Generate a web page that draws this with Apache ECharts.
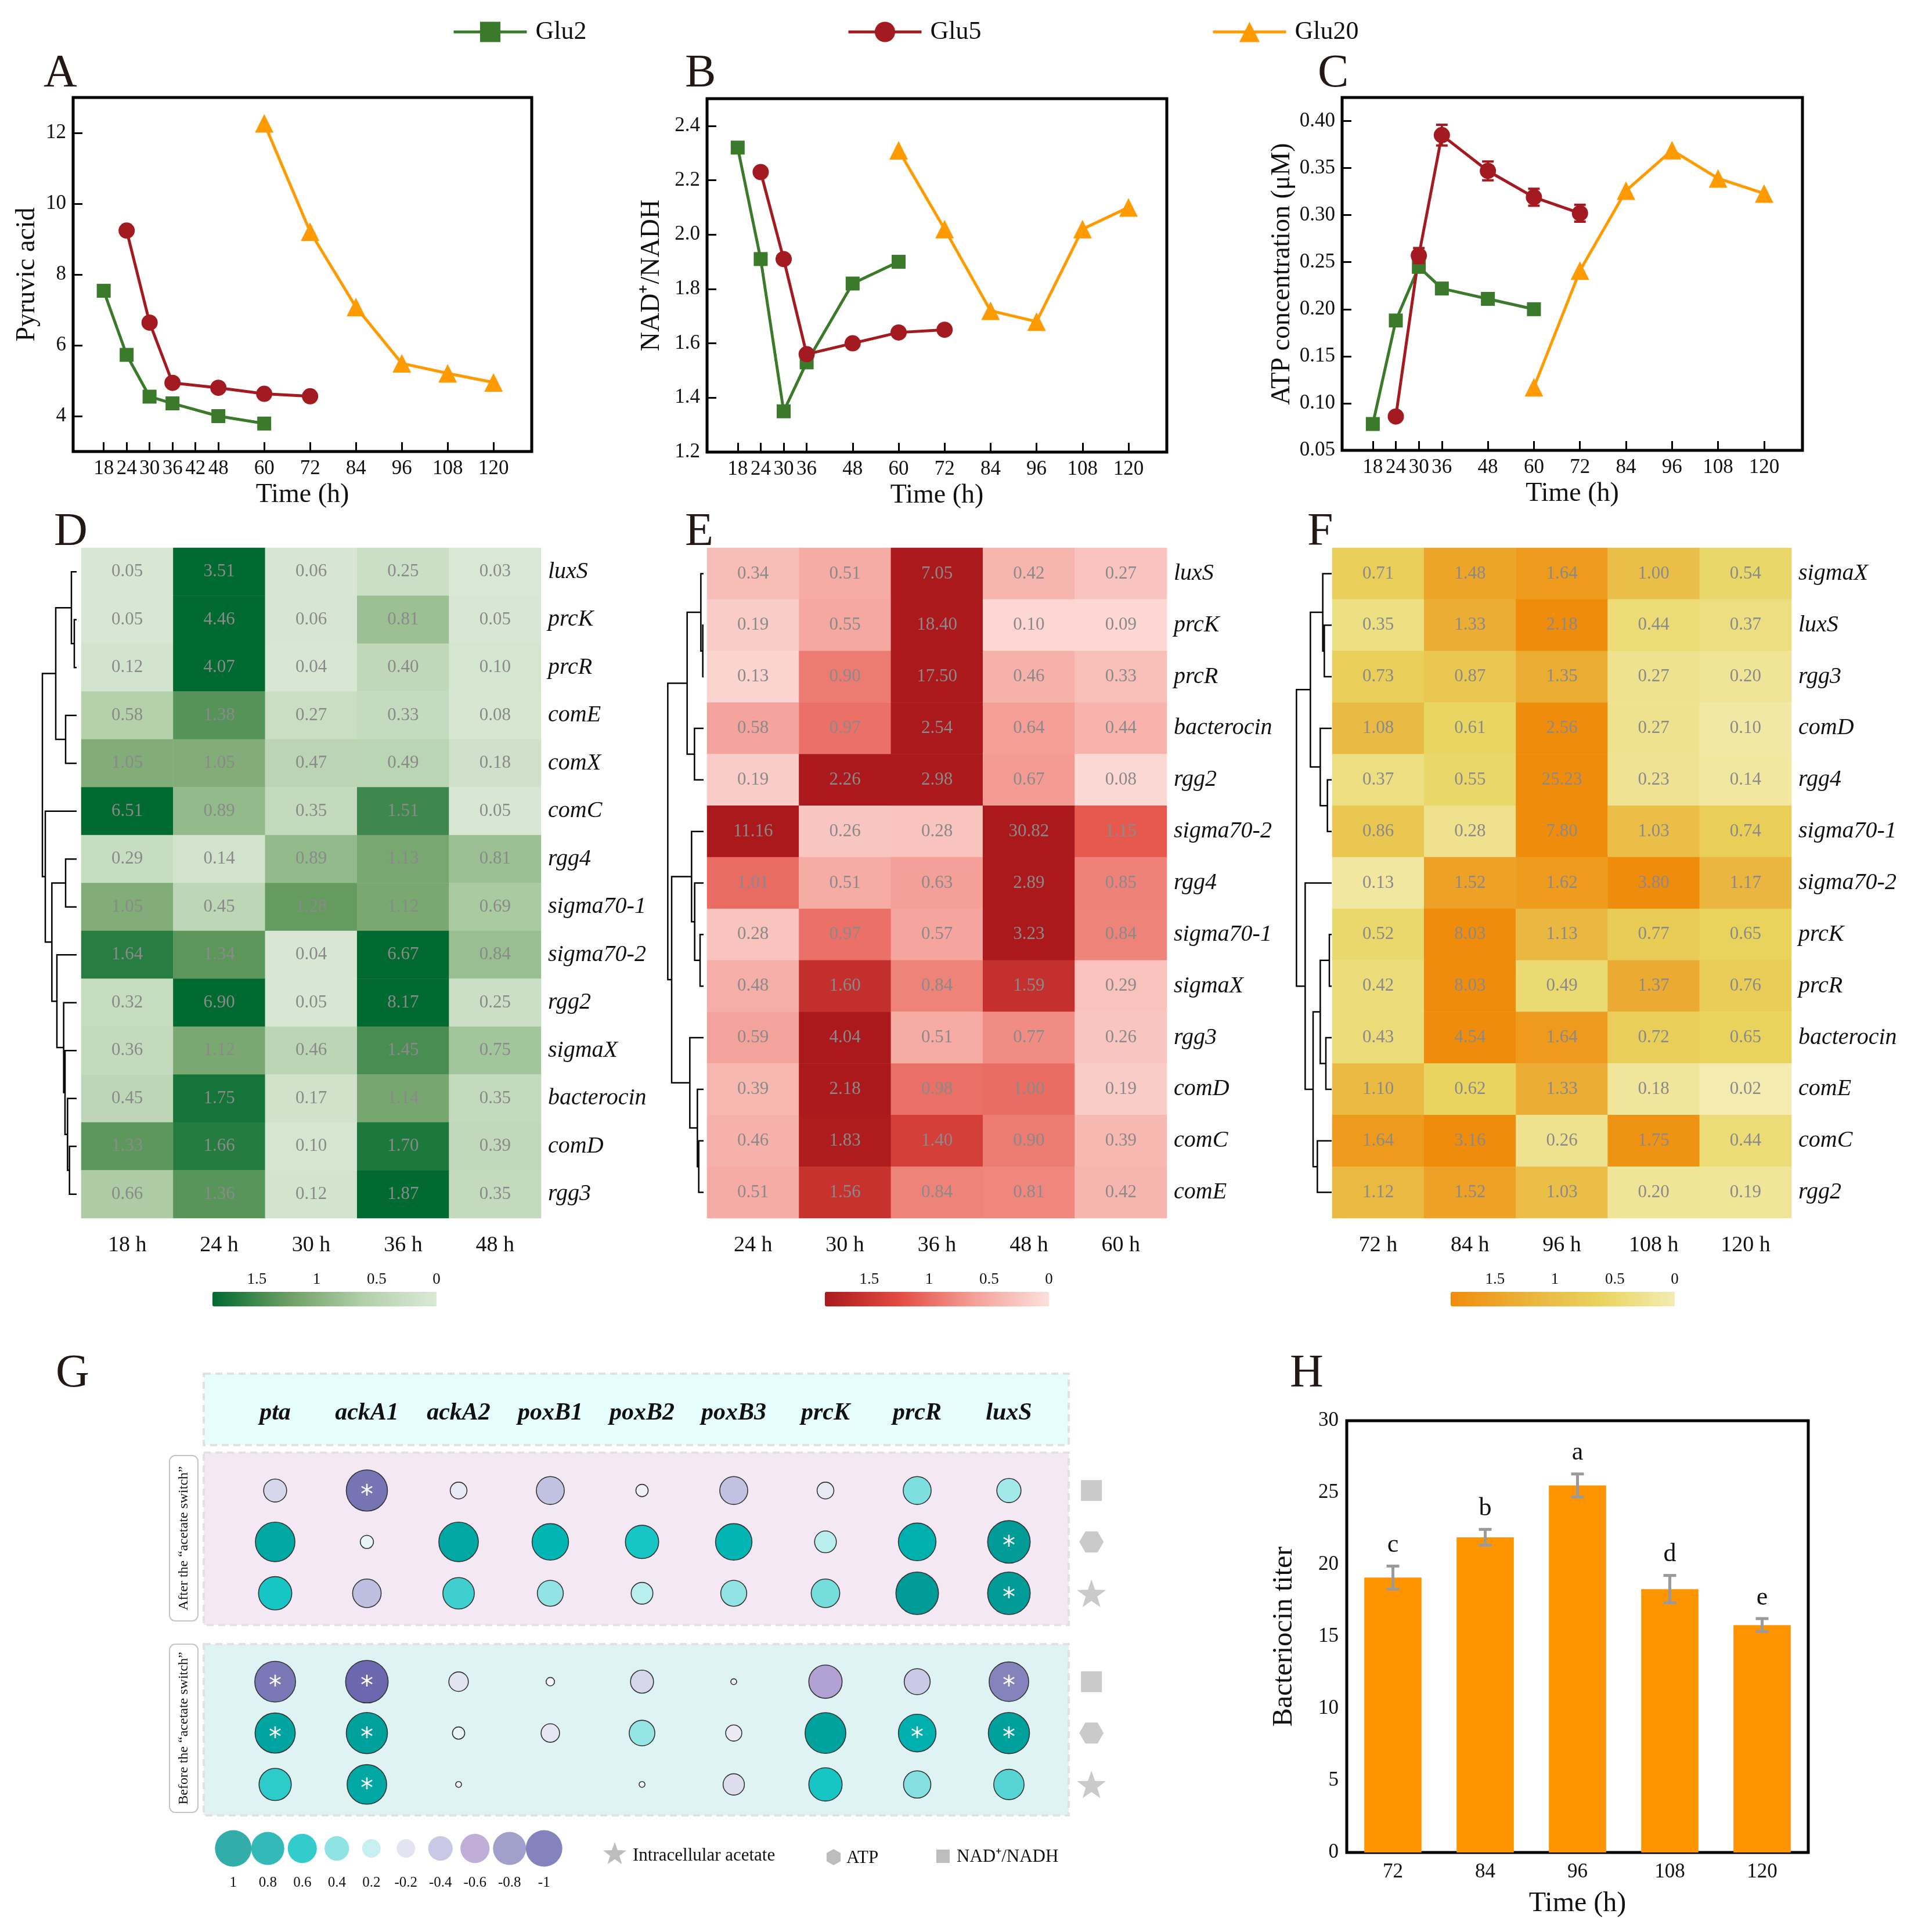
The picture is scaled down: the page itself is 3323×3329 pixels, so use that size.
<!DOCTYPE html>
<html>
<head>
<meta charset="utf-8">
<script src="https://cdn.jsdelivr.net/npm/echarts@6/dist/echarts.min.js"></script>
<style>
html, body { margin: 0; padding: 0; background: #fff; }
#chart { width: 3323px; height: 3329px; }
</style>
</head>
<body>
<div id="chart"></div>
<script>
const FONT = 'Liberation Serif';
const INK = '#111';

// ---------- panels A-C: time courses ----------
const groupNames = ['Glu2', 'Glu5', 'Glu20'];
const groupColors = ['#3b7a2a', '#a31b21', '#ff9a00'];
const groupSymbols = ['rect', 'circle', 'triangle'];
const groupSymbolSizes = [24, 28, 32];

const timesGlu2 = [18, 24, 30, 36, 48, 60];
const timesGlu5 = [24, 30, 36, 48, 60, 72];
const timesGlu20 = [60, 72, 84, 96, 108, 120];

const pyruvicGlu2 = [7.54, 5.73, 4.55, 4.36, 4.00, 3.79];
const pyruvicGlu5 = [9.24, 6.64, 4.94, 4.80, 4.63, 4.56];
const pyruvicGlu20 = [12.27, 9.21, 7.08, 5.49, 5.21, 4.95];

const nadGlu2 = [2.32, 1.91, 1.35, 1.53, 1.82, 1.90];
const nadGlu5 = [2.23, 1.91, 1.56, 1.60, 1.64, 1.65];
const nadGlu20 = [2.31, 2.02, 1.72, 1.68, 2.02, 2.10];

const atpGlu2 = [0.078, 0.188, 0.245, 0.222, 0.211, 0.200];
const atpGlu5 = [0.086, 0.257, 0.385, 0.347, 0.319, 0.302];
const atpGlu20 = [0.117, 0.241, 0.326, 0.369, 0.339, 0.323];
const atpErrGlu5 = [0.003, 0.008, 0.011, 0.010, 0.009, 0.009];

const xTicksA = [18, 24, 30, 36, 42, 48, 60, 72, 84, 96, 108, 120];
const xTicksBC = [18, 24, 30, 36, 48, 60, 72, 84, 96, 108, 120];
const yTicksA = [4, 6, 8, 10, 12];
const yTicksB = [1.2, 1.4, 1.6, 1.8, 2.0, 2.2, 2.4];
const yTicksC = [0.05, 0.10, 0.15, 0.20, 0.25, 0.30, 0.35, 0.40];

// ---------- panels D-F: heatmaps ----------
const colsD = ['18 h', '24 h', '30 h', '36 h', '48 h'];
const rowsD = ['luxS', 'prcK', 'prcR', 'comE', 'comX', 'comC', 'rgg4', 'sigma70-1', 'sigma70-2', 'rgg2', 'sigmaX', 'bacterocin', 'comD', 'rgg3'];
const valuesD = [
  [0.05, 3.51, 0.06, 0.25, 0.03],
  [0.05, 4.46, 0.06, 0.81, 0.05],
  [0.12, 4.07, 0.04, 0.40, 0.10],
  [0.58, 1.38, 0.27, 0.33, 0.08],
  [1.05, 1.05, 0.47, 0.49, 0.18],
  [6.51, 0.89, 0.35, 1.51, 0.05],
  [0.29, 0.14, 0.89, 1.13, 0.81],
  [1.05, 0.45, 1.28, 1.12, 0.69],
  [1.64, 1.34, 0.04, 6.67, 0.84],
  [0.32, 6.90, 0.05, 8.17, 0.25],
  [0.36, 1.12, 0.46, 1.45, 0.75],
  [0.45, 1.75, 0.17, 1.14, 0.35],
  [1.33, 1.66, 0.10, 1.70, 0.39],
  [0.66, 1.36, 0.12, 1.87, 0.35]
];
// dendrogram: [height, left, right], leaves are row indices
const treeD = [177,
  [108, [27, 0, [12, 1, 2]], [57, 3, 4]],
  [162, 5, [128, [57, 6, 7], [102, 8, [67, 9, [60, 10, [47, 11, [37, 12, 13]]]]]]]];

const colsE = ['24 h', '30 h', '36 h', '48 h', '60 h'];
const rowsE = ['luxS', 'prcK', 'prcR', 'bacterocin', 'rgg2', 'sigma70-2', 'rgg4', 'sigma70-1', 'sigmaX', 'rgg3', 'comD', 'comC', 'comE'];
const valuesE = [
  [0.34, 0.51, 7.05, 0.42, 0.27],
  [0.19, 0.55, 18.40, 0.10, 0.09],
  [0.13, 0.90, 17.50, 0.46, 0.33],
  [0.58, 0.97, 2.54, 0.64, 0.44],
  [0.19, 2.26, 2.98, 0.67, 0.08],
  [11.16, 0.26, 0.28, 30.82, 1.15],
  [1.01, 0.51, 0.63, 2.89, 0.85],
  [0.28, 0.97, 0.57, 3.23, 0.84],
  [0.48, 1.60, 0.84, 1.59, 0.29],
  [0.59, 4.04, 0.51, 0.77, 0.26],
  [0.39, 2.18, 0.98, 1.00, 0.19],
  [0.46, 1.83, 1.40, 0.90, 0.39],
  [0.51, 1.56, 0.84, 0.81, 0.42]
];
const treeE = [185,
  [85, [14, 0, [4, 1, 2]], [47, 3, 4]],
  [165, [62, 5, [46, 6, [18, 7, 8]]], [71, 9, [32, 10, [25, 11, 12]]]]];

const colsF = ['72 h', '84 h', '96 h', '108 h', '120 h'];
const rowsF = ['sigmaX', 'luxS', 'rgg3', 'comD', 'rgg4', 'sigma70-1', 'sigma70-2', 'prcK', 'prcR', 'bacterocin', 'comE', 'comC', 'rgg2'];
const valuesF = [
  [0.71, 1.48, 1.64, 1.00, 0.54],
  [0.35, 1.33, 2.18, 0.44, 0.37],
  [0.73, 0.87, 1.35, 0.27, 0.20],
  [1.08, 0.61, 2.56, 0.27, 0.10],
  [0.37, 0.55, 25.23, 0.23, 0.14],
  [0.86, 0.28, 7.80, 1.03, 0.74],
  [0.13, 1.52, 1.62, 3.80, 1.17],
  [0.52, 8.03, 1.13, 0.77, 0.65],
  [0.42, 8.03, 0.49, 1.37, 0.76],
  [0.43, 4.54, 1.64, 0.72, 0.65],
  [1.10, 0.62, 1.33, 0.18, 0.02],
  [1.64, 3.16, 0.26, 1.75, 0.44],
  [1.12, 1.52, 1.03, 0.20, 0.19]
];
const treeF = [182,
  [110, [46, 0, [38, 1, 2]], [59, 3, [22, 4, 5]]],
  [137, 6, [96, [59, [12, 7, 8], [30, 9, 10]], [74, 11, 12]]]];

const barTicks = [0, 0.5, 1, 1.5];

// ---------- panel G: correlation bubbles ----------
const genes = ['pta', 'ackA1', 'ackA2', 'poxB1', 'poxB2', 'poxB3', 'prcK', 'prcR', 'luxS'];
const metrics = ['NAD⁺/NADH', 'ATP', 'Intracellular acetate'];
const afterR = [
  [-0.23, -0.91, -0.10, -0.37, -0.04, -0.37, -0.10, 0.37, 0.26],
  [0.83, 0.05, 0.83, 0.69, 0.56, 0.69, 0.20, 0.74, 0.98],
  [0.56, -0.39, 0.49, 0.31, 0.20, 0.31, 0.39, 0.98, 0.98]
];
const afterSig = [
  [0, 1, 0, 0, 0, 0, 0, 0, 0],
  [0, 0, 0, 0, 0, 0, 0, 0, 1],
  [0, 0, 0, 0, 0, 0, 0, 0, 1]
];
const beforeR = [
  [-0.89, -0.98, -0.15, -0.01, -0.23, -0.001, -0.56, -0.31, -0.83],
  [0.86, 0.91, 0.04, -0.13, 0.30, -0.09, 0.89, 0.74, 0.91],
  [0.52, 0.83, 0.001, null, 0.001, -0.19, 0.56, 0.35, 0.45]
];
const beforeSig = [
  [1, 1, 0, 0, 0, 0, 0, 0, 1],
  [1, 1, 0, 0, 0, 0, 0, 1, 1],
  [0, 1, 0, 0, 0, 0, 0, 0, 0]
];
const legendR = [1, 0.8, 0.6, 0.4, 0.2, -0.2, -0.4, -0.6, -0.8, -1];
const corrColors = ['#6764ad', '#8a88bd', '#b09ad0', '#bcbce0', '#dcdcee', '#f6f6fb',
  '#b9eeee', '#73dcdc', '#00bfbf', '#00a9a6', '#009995'];

// ---------- panel H: bacteriocin titer ----------
const hTimes = ['72', '84', '96', '108', '120'];
const hTiter = [19.1, 21.9, 25.5, 18.3, 15.8];
const hErr = [0.8, 0.55, 0.8, 0.95, 0.45];
const hLetters = ['c', 'b', 'a', 'd', 'e'];

// ---------- build option ----------
const grids = [], xAxes = [], yAxes = [], series = [], visualMaps = [];
function addGrid(g) { grids.push(g); return grids.length - 1; }
function addSeries(s) { series.push(s); return series.length - 1; }
const txt = (size, extra) => Object.assign({ fontFamily: FONT, fontSize: size, color: INK }, extra || {});

const starPath = (() => {
  const p = [];
  for (let i = 0; i < 10; i++) {
    const r = i % 2 ? 40 : 100, a = -Math.PI / 2 + i * Math.PI / 5;
    p.push((i ? 'L' : 'M') + (r * Math.cos(a)).toFixed(1) + ',' + (r * Math.sin(a)).toFixed(1));
  }
  return 'path://' + p.join(' ') + ' Z';
})();
const hexPath = 'path://M100,0 L50,86.6 L-50,86.6 L-100,0 L-50,-86.6 L50,-86.6 Z';
const metricSymbols = ['rect', hexPath, starPath];
const metricSizes = [36, 42, 50];

// line panels
const linePanels = [
  { grid: { left: 126, top: 168, width: 790, height: 610 }, vals: [pyruvicGlu2, pyruvicGlu5, pyruvicGlu20],
    xTicks: xTicksA, yTicks: yTicksA, yMin: 3, yMax: 13, digits: 0, yName: 'Pyruvic acid', yGap: 56 },
  { grid: { left: 1218, top: 170, width: 792, height: 609 }, vals: [nadGlu2, nadGlu5, nadGlu20],
    xTicks: xTicksBC, yTicks: yTicksB, yMin: 1.2, yMax: 2.5, digits: 1, yName: 'NAD⁺/NADH', yGap: 72 },
  { grid: { left: 2312, top: 168, width: 793, height: 608 }, vals: [atpGlu2, atpGlu5, atpGlu20],
    xTicks: xTicksBC, yTicks: yTicksC, yMin: 0.05, yMax: 0.425, digits: 2, yName: 'ATP concentration (μM)', yGap: 80 }
];
const groupTimes = [timesGlu2, timesGlu5, timesGlu20];
const lineAxisIdx = [];
linePanels.forEach((p) => {
  const gi = addGrid(Object.assign({ show: true, borderColor: '#000', borderWidth: 5, backgroundColor: 'transparent' }, p.grid));
  xAxes.push({
    gridIndex: gi, type: 'value', min: 10, max: 130,
    name: 'Time (h)', nameLocation: 'middle', nameGap: 52, nameTextStyle: txt(46),
    axisLine: { show: false }, splitLine: { show: false },
    axisTick: { inside: true, length: 16, lineStyle: { width: 3, color: '#000' }, customValues: p.xTicks },
    axisLabel: txt(35, { customValues: p.xTicks, margin: 12 })
  });
  yAxes.push({
    gridIndex: gi, type: 'value', min: p.yMin, max: p.yMax,
    name: p.yName, nameLocation: 'middle', nameGap: p.yGap, nameTextStyle: txt(46),
    axisLine: { show: false }, splitLine: { show: false },
    axisTick: { inside: true, length: 16, lineStyle: { width: 3, color: '#000' }, customValues: p.yTicks },
    axisLabel: txt(35, { customValues: p.yTicks, margin: 12, formatter: (v) => Number(v).toFixed(p.digits) })
  });
  const ai = xAxes.length - 1;
  lineAxisIdx.push(ai);
  p.vals.forEach((vals, g) => {
    addSeries({
      type: 'line', name: groupNames[g], xAxisIndex: ai, yAxisIndex: ai,
      data: groupTimes[g].map((t, i) => [t, vals[i]]),
      symbol: groupSymbols[g], symbolSize: groupSymbolSizes[g],
      lineStyle: { color: groupColors[g], width: 5 },
      itemStyle: { color: groupColors[g] }, z: 3
    });
  });
});
// error bars on ATP for Glu5
addSeries({
  type: 'custom', xAxisIndex: lineAxisIdx[2], yAxisIndex: lineAxisIdx[2], z: 4, silent: true,
  data: timesGlu5.map((t, i) => [t, atpGlu5[i], atpErrGlu5[i]]),
  renderItem: (params, api) => {
    const t = api.value(0), m = api.value(1), e = api.value(2);
    const a = api.coord([t, m + e]), b = api.coord([t, m - e]), w = 10;
    const st = { stroke: groupColors[1], lineWidth: 4 };
    return { type: 'group', children: [
      { type: 'line', shape: { x1: a[0], y1: a[1], x2: b[0], y2: b[1] }, style: st },
      { type: 'line', shape: { x1: a[0] - w, y1: a[1], x2: a[0] + w, y2: a[1] }, style: st },
      { type: 'line', shape: { x1: b[0] - w, y1: b[1], x2: b[0] + w, y2: b[1] }, style: st }
    ] };
  }
});

// heatmap panels
const heatPanels = [
  { cols: colsD, rows: rowsD, vals: valuesD, tree: treeD, left: 140, width: 792, leafEnd: 132, barLeft: 366,
    colors: ['#dbe9d7', '#b1cfa9', '#6c9e63', '#006a30'] },
  { cols: colsE, rows: rowsE, vals: valuesE, tree: treeE, left: 1218, width: 792, leafEnd: 1212, barLeft: 1421,
    colors: ['#fde0dd', '#f4a098', '#e34c42', '#ab191c'] },
  { cols: colsF, rows: rowsF, vals: valuesF, tree: treeF, left: 2295, width: 791, leafEnd: 2294, barLeft: 2499,
    colors: ['#f3ecb2', '#e9d45f', '#eab23a', '#f08c0c'] }
];
const HEAT_TOP = 944, HEAT_H = 1155, BAR_TOP = 2226, BAR_LEN = 386, BAR_MAX = 1.87;
heatPanels.forEach((p) => {
  const n = p.rows.length;
  const gi = addGrid({ left: p.left, top: HEAT_TOP, width: p.width, height: HEAT_H });
  xAxes.push({ gridIndex: gi, type: 'category', data: p.cols, axisLine: { show: false }, axisTick: { show: false },
    splitLine: { show: false }, axisLabel: txt(38, { margin: 28 }) });
  yAxes.push({ gridIndex: gi, type: 'category', data: p.rows, inverse: true, position: 'right',
    axisLine: { show: false }, axisTick: { show: false }, splitLine: { show: false },
    axisLabel: txt(40, { fontStyle: 'italic', margin: 12 }) });
  const ai = xAxes.length - 1;
  const data = [];
  p.vals.forEach((row, r) => row.forEach((v, c) => data.push([c, r, v])));
  const si = addSeries({
    type: 'heatmap', xAxisIndex: ai, yAxisIndex: ai, data,
    label: { show: true, formatter: (d) => d.value[2].toFixed(2), fontFamily: FONT, fontSize: 31, color: '#8a8a8a' },
    itemStyle: { borderWidth: 0 }
  });
  visualMaps.push({
    type: 'continuous', seriesIndex: si, dimension: 2, min: 0, max: BAR_MAX,
    orient: 'horizontal', inverse: true, left: p.barLeft, top: BAR_TOP, padding: 0,
    itemWidth: 25, itemHeight: BAR_LEN, calculable: false, realtime: false, hoverLink: false,
    inRange: { color: p.colors }, textStyle: txt(1, { color: 'transparent' })
  });

  // dendrogram drawn from the merge tree
  const segs = [];
  const walk = (node) => {
    if (typeof node === 'number') return { y: node, h: 0 };
    const a = walk(node[1]), b = walk(node[2]);
    segs.push({ coords: [[a.h, a.y], [node[0], a.y], [node[0], b.y], [b.h, b.y]] });
    return { y: (a.y + b.y) / 2, h: node[0] };
  };
  walk(p.tree);
  const dg = addGrid({ left: p.leafEnd - 63.3, top: HEAT_TOP, width: 63.3, height: HEAT_H });
  xAxes.push({ gridIndex: dg, type: 'value', min: 0, max: 190, inverse: true, show: false });
  yAxes.push({ gridIndex: dg, type: 'value', min: -0.5, max: n - 0.5, inverse: true, show: false });
  const di = xAxes.length - 1;
  addSeries({ type: 'lines', coordinateSystem: 'cartesian2d', xAxisIndex: di, yAxisIndex: di, polyline: true,
    silent: true, data: segs, lineStyle: { color: '#000', width: 2.5, opacity: 1 } });

  // tick labels for the colour bar
  const lg = addGrid({ left: p.barLeft + (BAR_MAX - 1.5) / BAR_MAX * BAR_LEN, top: BAR_TOP,
    width: 1.5 / BAR_MAX * BAR_LEN, height: 25 });
  xAxes.push({ gridIndex: lg, type: 'value', min: 0, max: 1.5, inverse: true, position: 'top',
    axisLine: { show: false }, axisTick: { show: false }, splitLine: { show: false },
    axisLabel: txt(27, { customValues: barTicks, margin: 8 }) });
  yAxes.push({ gridIndex: lg, type: 'value', show: false, min: 0, max: 1 });
});

// bubble matrix G
const GAP_ROWS = 0.72;
const gG = addGrid({ left: 395, top: 2524, width: 1422, height: 595 });
xAxes.push({ gridIndex: gG, type: 'value', min: -0.5, max: 8.5, position: 'top',
  axisLine: { show: false }, axisTick: { show: false }, splitLine: { show: false },
  axisLabel: txt(42, { customValues: genes.map((g, i) => i), formatter: (v) => genes[v],
    fontStyle: 'italic', fontWeight: 'bold', margin: 68 }) });
yAxes.push({ gridIndex: gG, type: 'value', min: -0.5, max: 5.5 + GAP_ROWS, inverse: true, show: false });
const gAx = xAxes.length - 1;
const bubbleData = [];
[afterR, beforeR].forEach((mat, grp) => {
  const sig = grp ? beforeSig : afterSig;
  mat.forEach((row, m) => row.forEach((r, c) => {
    if (r === null) return;
    const d = { value: [c, m + grp * (3 + GAP_ROWS), r] };
    if (sig[m][c]) d.label = { show: true };
    bubbleData.push(d);
  }));
});
const bubbleSize = (r) => 8 + 66 * Math.sqrt(Math.abs(r));
const bi = addSeries({
  type: 'scatter', xAxisIndex: gAx, yAxisIndex: gAx, data: bubbleData, clip: false,
  symbolSize: (v) => bubbleSize(v[2]),
  itemStyle: { borderColor: '#333', borderWidth: 1.6, opacity: 1 },
  label: { show: false, formatter: '*', position: 'inside', color: '#fff', fontFamily: 'DejaVu Sans', fontSize: 44, offset: [0, 10] },
  z: 5
});
const iconData = [];
[0, 1].forEach((grp) => metrics.forEach((name, m) => iconData.push({
  value: [8.9, m + grp * (3 + GAP_ROWS)], symbol: metricSymbols[m], symbolSize: metricSizes[m]
})));
addSeries({ type: 'scatter', xAxisIndex: gAx, yAxisIndex: gAx, data: iconData, clip: false, symbolKeepAspect: true,
  itemStyle: { color: '#bdbdbd' }, silent: true });

// bubble legend
const gL = addGrid({ left: 372, top: 3150, width: 595, height: 70 });
xAxes.push({ gridIndex: gL, type: 'category', data: legendR.map(String),
  axisLine: { show: false }, axisTick: { show: false }, splitLine: { show: false },
  axisLabel: txt(25, { margin: 12 }) });
yAxes.push({ gridIndex: gL, type: 'value', min: -1, max: 1, show: false });
const lAx = xAxes.length - 1;
const li = addSeries({ type: 'scatter', xAxisIndex: lAx, yAxisIndex: lAx, silent: true,
  data: legendR.map((r, i) => [i, 0, r]), symbolSize: (v) => 0.85 * bubbleSize(v[2]) });
visualMaps.push({ type: 'continuous', show: false, seriesIndex: [bi, li], dimension: 2, min: -1, max: 1,
  inRange: { color: corrColors } });

// bar chart H
const gH = addGrid({ left: 2320, top: 2448, width: 795, height: 744, show: true, borderColor: '#000', borderWidth: 5,
  backgroundColor: 'transparent' });
xAxes.push({ gridIndex: gH, type: 'category', data: hTimes, name: 'Time (h)', nameLocation: 'middle', nameGap: 64,
  nameTextStyle: txt(48), axisLine: { show: false },
  axisTick: { inside: true, alignWithLabel: true, length: 22, lineStyle: { width: 5, color: '#000' } },
  axisLabel: txt(35, { margin: 16 }) });
yAxes.push({ gridIndex: gH, type: 'value', min: 0, max: 30, interval: 5, name: 'Bacteriocin titer',
  nameLocation: 'middle', nameGap: 84, nameTextStyle: txt(48), axisLine: { show: false }, splitLine: { show: false },
  axisTick: { inside: true, length: 16, lineStyle: { width: 3, color: '#000' } }, axisLabel: txt(35, { margin: 14 }) });
const hAx = xAxes.length - 1;
addSeries({ type: 'bar', xAxisIndex: hAx, yAxisIndex: hAx, data: hTiter, barWidth: '62%',
  itemStyle: { color: '#fe9400' } });
addSeries({
  type: 'custom', xAxisIndex: hAx, yAxisIndex: hAx, silent: true, z: 4,
  data: hTiter.map((v, i) => [i, v, hErr[i]]),
  renderItem: (params, api) => {
    const x = api.value(0), m = api.value(1), e = api.value(2);
    const a = api.coord([x, m + e]), b = api.coord([x, m - e]), w = 11;
    const st = { stroke: '#9a9a9a', lineWidth: 5 };
    return { type: 'group', children: [
      { type: 'line', shape: { x1: a[0], y1: a[1], x2: b[0], y2: b[1] }, style: st },
      { type: 'line', shape: { x1: a[0] - w, y1: a[1], x2: a[0] + w, y2: a[1] }, style: st },
      { type: 'line', shape: { x1: b[0] - w, y1: b[1], x2: b[0] + w, y2: b[1] }, style: st },
      { type: 'text', style: { text: hLetters[params.dataIndex], x: a[0], y: a[1] - 14, align: 'center',
        verticalAlign: 'bottom', fontFamily: FONT, fontSize: 44, fill: INK } }
    ] };
  }
});

// ---------- decorations ----------
const letter = (t, x, y) => ({ type: 'text', x, y, style: { text: t, fontFamily: FONT, fontSize: 80, fill: '#231815' } });
const band = (y, h, fill) => ({ type: 'rect', shape: { x: 351, y, width: 1490, height: h },
  style: { fill, stroke: '#e2e2e2', lineWidth: 4, lineDash: [12, 8] }, z: -10 });
const sideLabel = (t, y0, y1) => ({ type: 'group', children: [
  { type: 'rect', shape: { x: 292, y: y0, width: 49, height: y1 - y0, r: 10 }, style: { fill: '#fff', stroke: '#c4c4c4', lineWidth: 2 } },
  { type: 'text', x: 317, y: (y0 + y1) / 2, rotation: Math.PI / 2,
    style: { text: t, fontFamily: FONT, fontSize: 24, fill: INK, align: 'center', verticalAlign: 'middle' } }
] });
const polyPts = (cx, cy, R, k, r2, a0) => {
  const pts = [];
  for (let i = 0; i < k; i++) {
    const rr = r2 && i % 2 ? r2 : R, a = a0 + i * 2 * Math.PI / k;
    pts.push([cx + rr * Math.cos(a), cy + rr * Math.sin(a)]);
  }
  return pts;
};
const legendText = (t, x, y) => ({ type: 'text', x, y, style: { text: t, fontFamily: FONT, fontSize: 31, fill: INK, verticalAlign: 'middle' } });

const graphic = [
  letter('A', 75, 88), letter('B', 1180, 88), letter('C', 2270, 88),
  letter('D', 93, 878), letter('E', 1180, 878), letter('F', 2252, 878),
  letter('G', 96, 2328), letter('H', 2222, 2328),
  band(2367, 123, '#e6fdfd'), band(2503, 297, '#f3e8f3'), band(2833, 295, '#dff3f5'),
  sideLabel('After the “acetate switch”', 2508, 2793),
  sideLabel('Before the “acetate switch”', 2833, 3123),
  { type: 'polygon', shape: { points: polyPts(1059, 3195, 21, 10, 8.5, -Math.PI / 2) }, style: { fill: '#bdbdbd' } },
  legendText('Intracellular acetate', 1090, 3198),
  { type: 'polygon', shape: { points: polyPts(1436, 3200, 14, 6, 0, -Math.PI / 2) }, style: { fill: '#bdbdbd' } },
  legendText('ATP', 1458, 3202),
  { type: 'rect', shape: { x: 1613, y: 3187, width: 23, height: 23 }, style: { fill: '#bdbdbd' } },
  legendText('NAD⁺/NADH', 1648, 3200)
];

const legendLefts = [779, 1459, 2087];
const legends = groupNames.map((g, i) => ({
  data: [g], left: legendLefts[i], top: 33, padding: 0, itemWidth: 126, itemHeight: 44, selectedMode: false,
  lineStyle: { width: 5 },
  textStyle: txt(44, { padding: [0, 0, 0, 10] })
}));

const chart = echarts.init(document.getElementById('chart'), null, { width: 3323, height: 3329 });
chart.setOption({
  backgroundColor: '#fff',
  animation: false,
  textStyle: { fontFamily: FONT },
  legend: legends,
  grid: grids,
  xAxis: xAxes,
  yAxis: yAxes,
  visualMap: visualMaps,
  series,
  graphic
});
</script>
</body>
</html>
